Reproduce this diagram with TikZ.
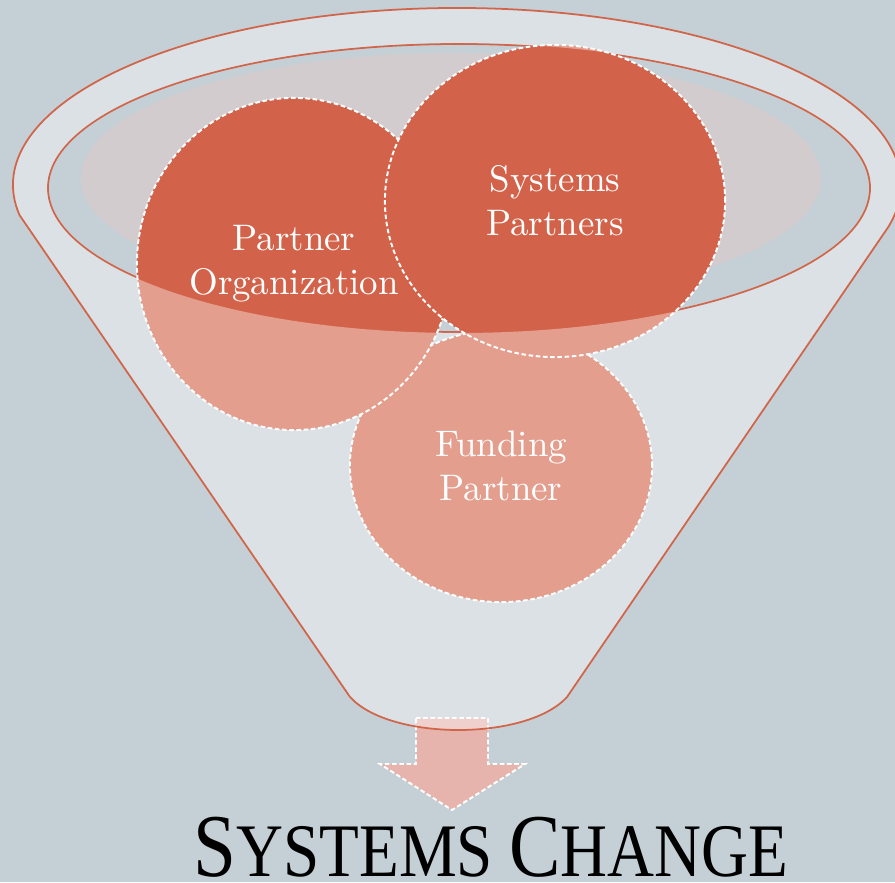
\documentclass[tikz,border=0pt]{standalone}
\usepackage{graphicx}
\usepackage{fontspec}
\usetikzlibrary{shapes.geometric}

\newfontfamily\titlefont{Liberation Serif}

\definecolor{backblue}{HTML}{C5D0D6}
\definecolor{rimpink}{HTML}{D3CCCF}
\definecolor{rustdark}{HTML}{D2634A}
\definecolor{rustline}{HTML}{D0654A}
\definecolor{arrowpink}{HTML}{E6B4AD}

% outer edge of the funnel: top arc, right side, spout, left side
\newcommand{\funnelpath}{(19.5,666.9) arc[start angle=189.8, end angle=-13.7, x radius=444, y radius=177]
    -- (567,185) .. controls (527,141) and (390,141) .. (350,185) -- cycle}

\begin{document}
\begin{tikzpicture}
    [
    x=0.01cm, y=0.01cm,
    whitedash/.style={draw=white, line width=0.55pt, dash pattern=on 1.3pt off 0.75pt},
    bubble/.style={ellipse, inner sep=0pt, fill=rustdark, whitedash, text=white, align=center,
        font=\fontsize{10.5}{12.5}\selectfont},
    rimline/.style={draw=rustline, line width=0.5pt},
    ]

    \fill[backblue] (0,0) rectangle (895,882);
    \useasboundingbox (0,0) rectangle (895,882);

    % arrow out of the spout
    \filldraw[fill=arrowpink, whitedash]
        (416,164) -- (488,164) -- (488,118) -- (525,118) -- (452,72) -- (380,118) -- (416,118) -- cycle;

    % mouth of the funnel
    \fill[rimpink] (451,704) ellipse [x radius=370, y radius=125];
    \draw[rimline] (459,694) ellipse [x radius=411, y radius=144];

    \node[bubble, minimum width=3.02cm, minimum height=2.72cm] (fund) at (501,416) {Funding\\Partner};
    \node[bubble, minimum width=3.14cm, minimum height=3.32cm] (org) at (294,618) {Partner\\Organization};
    \node[bubble, minimum width=3.40cm, minimum height=3.12cm] (sys) at (555,681) {Systems\\Partners};

    % glassy body over everything outside the mouth
    \fill[white, fill opacity=0.38, even odd rule] \funnelpath
        (459,694) ellipse [x radius=412, y radius=145];
    \draw[rimline] \funnelpath;

    \node[anchor=base, inner sep=0pt] (change) at (491,6)
    {\scalebox{0.86}[1]{\titlefont\fontsize{25.5}{26}\selectfont S\fontsize{21.5}{22}\selectfont YSTEMS
        \fontsize{25.5}{26}\selectfont C\fontsize{21.5}{22}\selectfont HANGE}};
\end{tikzpicture}
\end{document}
